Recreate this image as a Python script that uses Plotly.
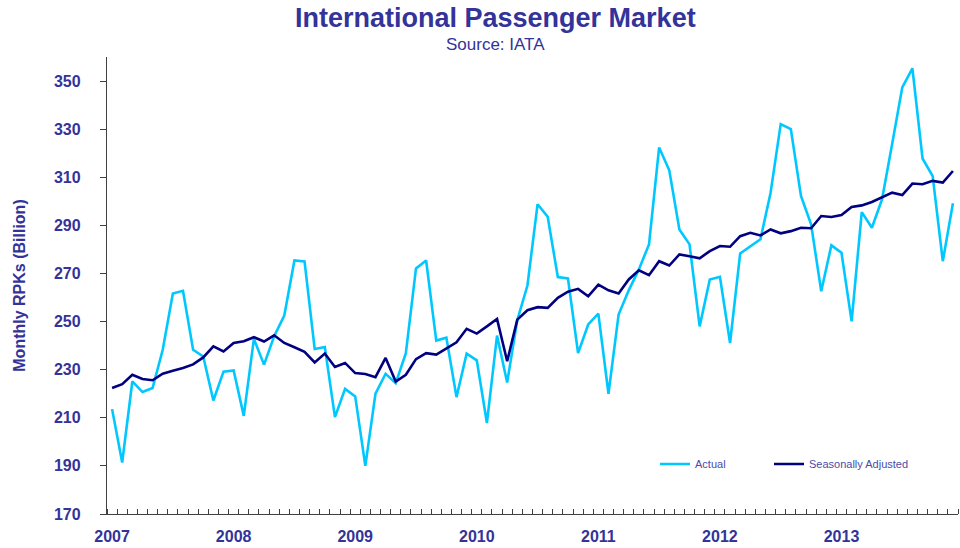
import plotly.graph_objects as go

years = list(range(2007, 2014))
months = [f"{y}-{m:02d}" for y in years for m in range(1, 13)]

actual = [213.6, 191.4, 225.1, 220.7, 222.4, 238.3, 261.7, 262.8, 238.3, 235.5, 217.2, 229.2,
          229.7, 210.8, 242.8, 232.1, 243.9, 252.5, 275.4, 275.0, 238.6, 239.4, 210.3, 222.0,
          218.9, 190.0, 220.0, 228.3, 224.4, 236.9, 272.1, 275.4, 242.1, 243.3, 218.6, 236.7,
          233.9, 207.8, 244.2, 224.7, 250.6, 265.0, 298.8, 293.6, 268.5, 267.9, 236.9, 248.8,
          253.3, 220.0, 252.9, 263.0, 271.7, 282.1, 322.4, 312.9, 288.3, 282.1, 248.0, 267.5,
          268.6, 241.1, 278.3, 281.1, 284.2, 303.6, 332.1, 330.0, 302.2, 290.4, 262.6, 281.7,
          278.6, 250.1, 295.5, 289.0, 300.8, 323.8, 347.4, 355.3, 317.8, 310.5, 275.1, 299.2]

seasonally_adjusted = [222.4, 224.0, 227.9, 226.1, 225.6, 228.3, 229.6, 230.7, 232.2, 235.1, 239.7, 237.6,
                       241.1, 241.8, 243.5, 241.7, 244.3, 241.1, 239.3, 237.4, 233.0, 236.7, 231.1, 232.8,
                       228.6, 228.2, 226.9, 234.9, 225.1, 227.9, 234.4, 236.9, 236.3, 239.0, 241.4, 247.0,
                       245.0, 248.0, 251.1, 233.5, 250.8, 254.7, 256.0, 255.7, 259.9, 262.4, 263.6, 260.5,
                       265.4, 263.0, 261.7, 267.5, 271.3, 269.3, 275.1, 273.3, 277.9, 277.2, 276.3, 279.3,
                       281.4, 281.1, 285.5, 286.9, 285.8, 288.3, 286.7, 287.6, 289.0, 288.8, 293.9, 293.5,
                       294.3, 297.6, 298.3, 299.7, 301.5, 303.6, 302.6, 307.4, 307.1, 308.5, 307.8, 312.6]

year_labels = [str(y) for y in years]
y_ticks = list(range(170, 361, 20))

x_idx = list(range(len(months)))
year_pos = [months.index(f"{y}-01") for y in years]

TXT = "#333399"
W, H = 960, 548
L, R, T, B = 107, 2, 57, 34
pw, ph = W - L - R, H - T - B


def px_x(px):
    return (px - L) / pw


def px_y(py):
    return (H - B - py) / ph


fig = go.Figure()
fig.add_trace(go.Scatter(x=x_idx, y=actual, mode="lines", name="Actual", legend="legend",
                         line=dict(color="#00C8FF", width=2.6), customdata=months))
fig.add_trace(go.Scatter(x=x_idx, y=seasonally_adjusted, mode="lines", name="Seasonally Adjusted",
                         legend="legend2", line=dict(color="#000080", width=2.6), customdata=months))

leg_font = dict(family="Liberation Sans, Arial", size=11, color="#4B4BA8")
fig.update_layout(
    width=W, height=H,
    margin=dict(l=L, r=R, t=T, b=B),
    plot_bgcolor="white", paper_bgcolor="white",
    showlegend=True,
    legend=dict(x=px_x(655), y=px_y(464), xanchor="left", yanchor="middle", font=leg_font,
                bgcolor="rgba(0,0,0,0)", itemwidth=30, borderwidth=0),
    legend2=dict(x=px_x(769), y=px_y(464), xanchor="left", yanchor="middle", font=leg_font,
                 bgcolor="rgba(0,0,0,0)", itemwidth=30, borderwidth=0),
    annotations=[
        dict(text="<b>International Passenger Market</b>", x=px_x(495), y=px_y(18),
             xref="paper", yref="paper", xanchor="center", yanchor="middle", showarrow=False,
             font=dict(family="Liberation Sans, Arial", size=27, color=TXT)),
        dict(text="Source: IATA", x=px_x(495), y=px_y(44.5),
             xref="paper", yref="paper", xanchor="center", yanchor="middle", showarrow=False,
             font=dict(family="Liberation Sans, Arial", size=17, color=TXT)),
    ],
)

fig.update_xaxes(range=[-0.5, len(months) - 0.5], tickmode="array", tickvals=year_pos,
                 ticktext=year_labels, ticks="", showgrid=False, zeroline=False, automargin=False,
                 showline=True, linecolor="#404040", linewidth=1.3,
                 tickfont=dict(family="Liberation Sans, Arial", size=16, color=TXT, weight="bold"),
                 ticklabelstandoff=8,
                 minor=dict(ticks="inside", tick0=0.5, dtick=1, ticklen=5, tickcolor="#404040", tickwidth=1))
fig.update_yaxes(range=[170, 360], tickmode="array", tickvals=y_ticks, ticks="outside", ticklen=6,
                 tickcolor="#404040", showgrid=False, zeroline=False, showline=True, automargin=False,
                 linecolor="#404040", linewidth=1.3,
                 tickfont=dict(family="Liberation Sans, Arial", size=16, color=TXT, weight="bold"),
                 ticklabelstandoff=16,
                 title=dict(text="Monthly RPKs (Billion)", standoff=24,
                            font=dict(family="Liberation Sans, Arial", size=16, color=TXT, weight="bold")))

# remove the browser's default 8px page margin so the figure fills the 960x548 window
fig.write_html("out.html", config={"displayModeBar": False},
               post_script="document.body.style.margin='0px';document.body.style.overflow='hidden';")
